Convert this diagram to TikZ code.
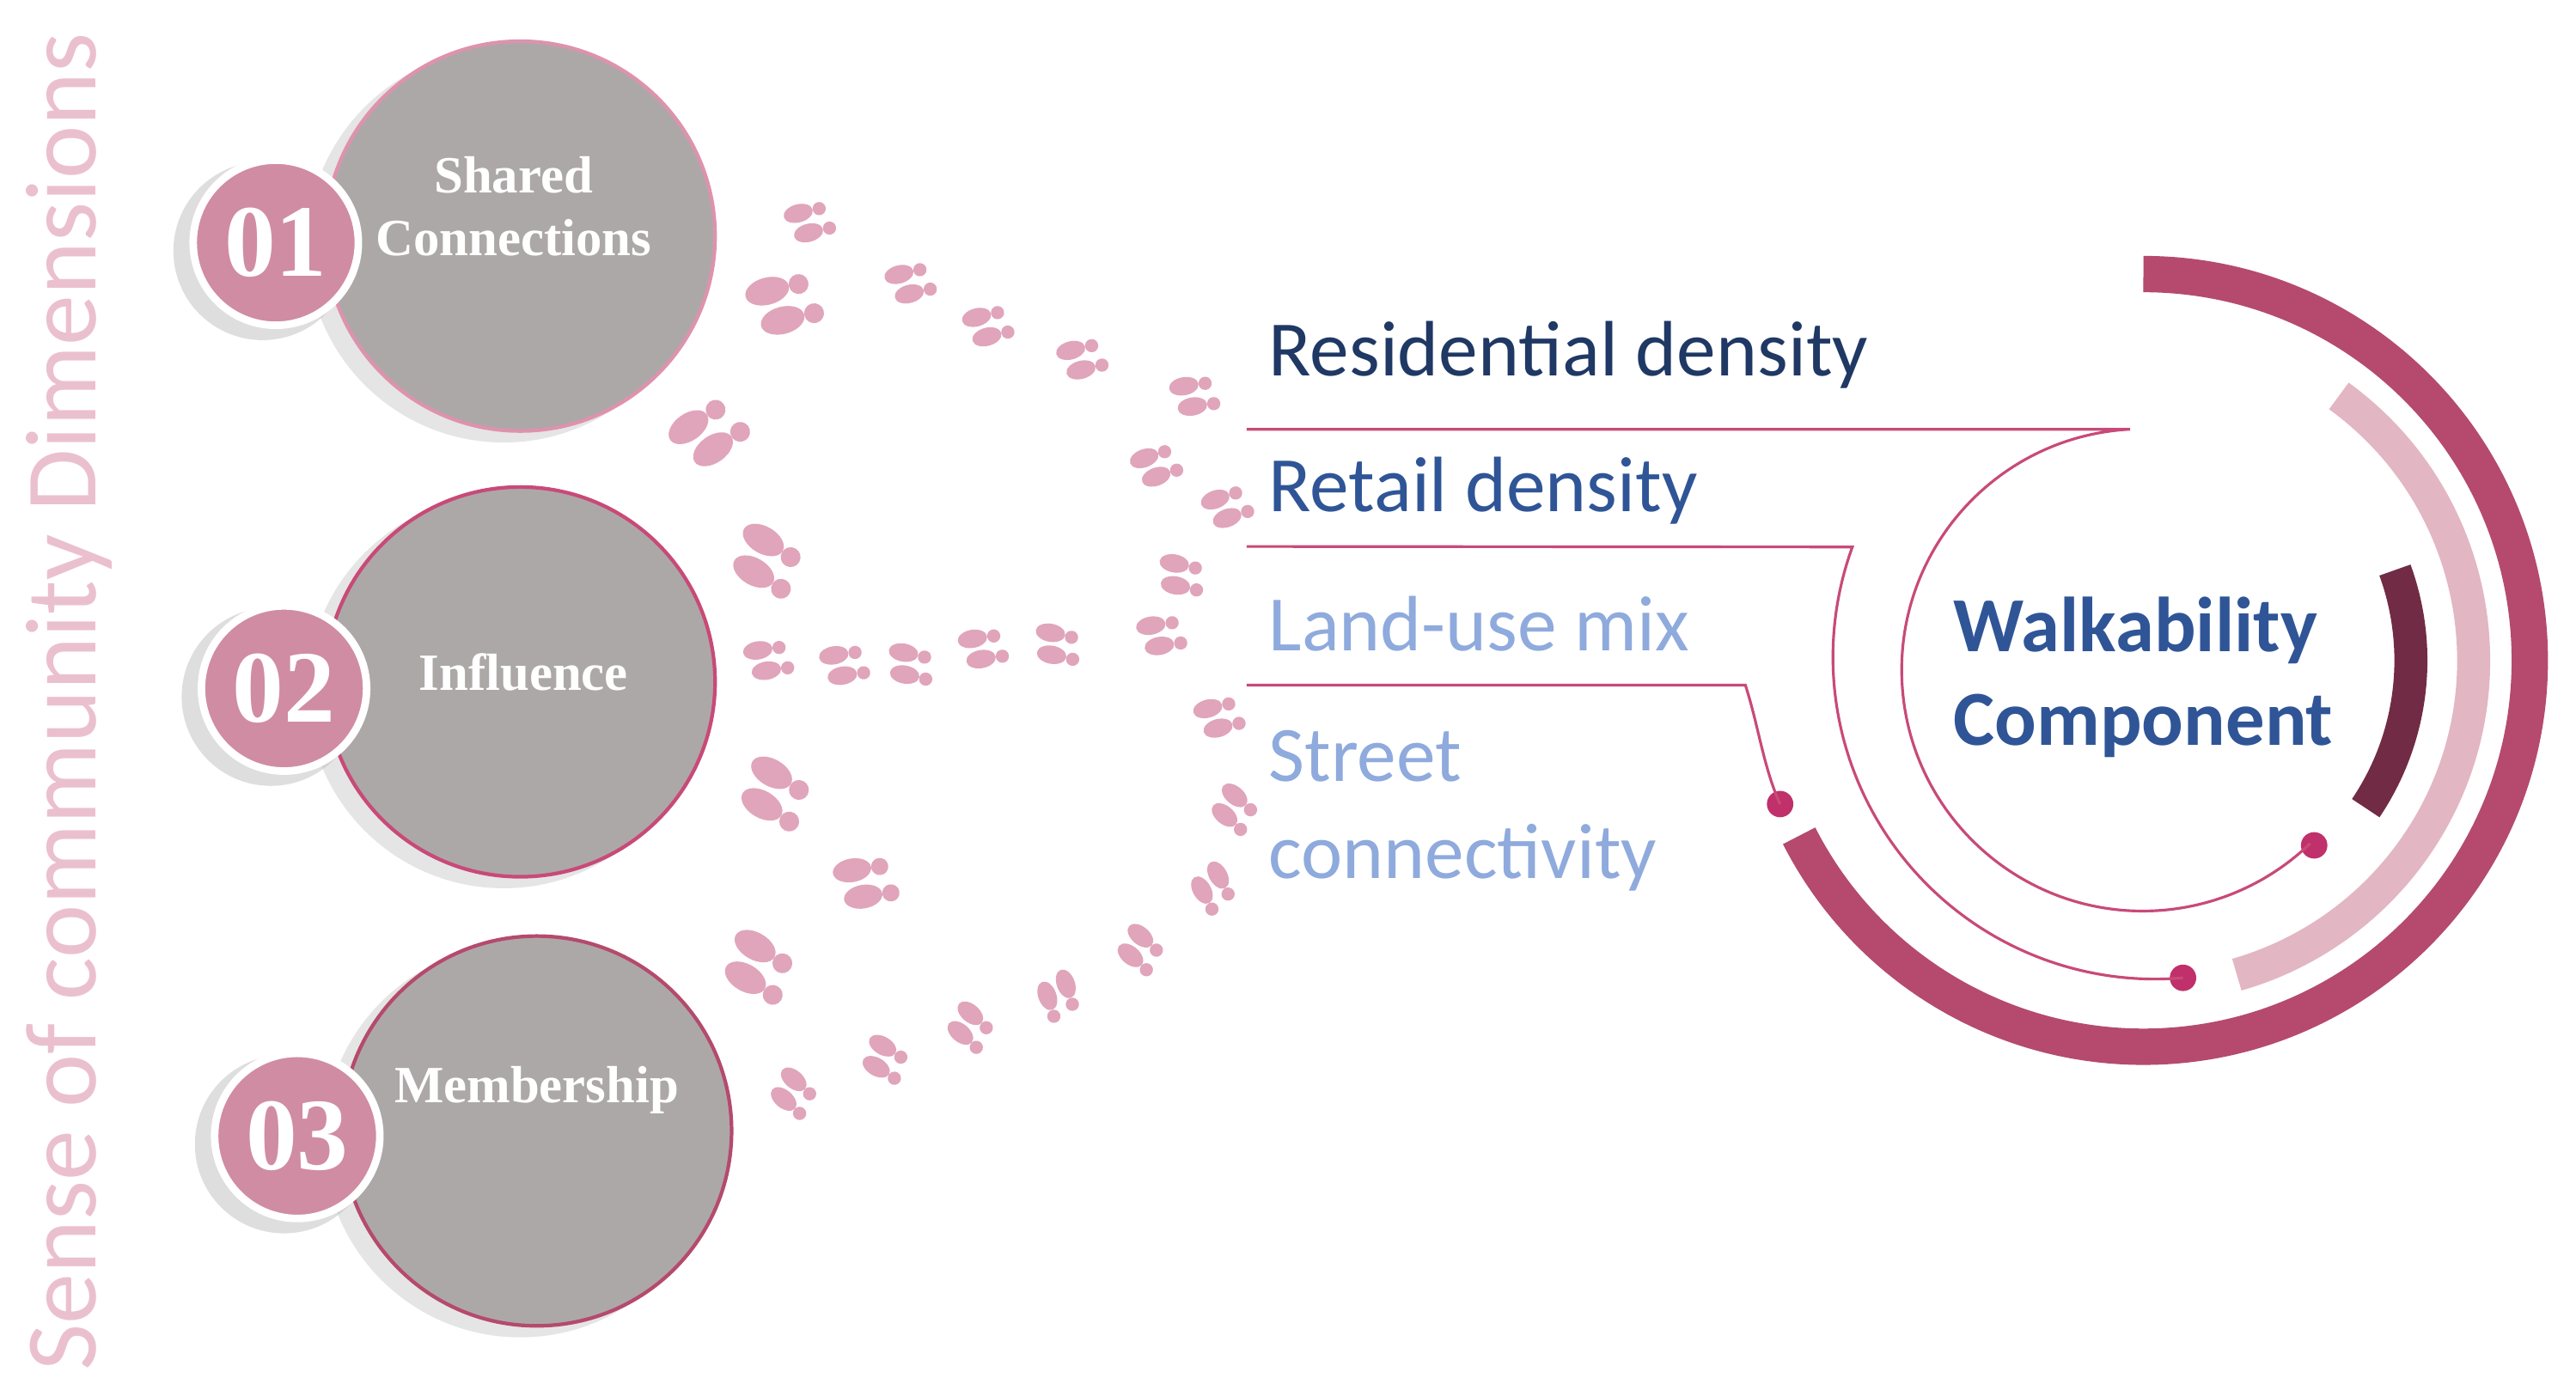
\documentclass[tikz,border=0pt]{standalone}
\usepackage{fontspec}
\setmainfont{Liberation Serif}
\newfontfamily\carl{Carlito}
\usetikzlibrary{calc}
\definecolor{fpc}{HTML}{E0A5BA}
\definecolor{cgray}{HTML}{ADA8A8}
\definecolor{numc}{HTML}{D08CA3}
\definecolor{arcA}{HTML}{B54A6E}
\definecolor{arcB}{HTML}{E3B6C4}
\definecolor{arcC}{HTML}{722B45}
\definecolor{lnc}{HTML}{C84A78}
\definecolor{dotc}{HTML}{C0306A}
\definecolor{navy}{HTML}{1F3864}
\definecolor{mblue}{HTML}{2F5597}
\definecolor{lblue}{HTML}{8FAADC}
\definecolor{vtxt}{HTML}{EBC0CE}
\newcommand\foot[4]{\begin{scope}[shift={(#1,#2)},rotate=#3,scale=#4]
\fill[fpc] (-2,-6.5) ellipse[x radius=9,y radius=5.5]; \fill[fpc] (11,-6) circle[radius=4];
\fill[fpc] (1,6.5) ellipse[x radius=9,y radius=5.5]; \fill[fpc] (14,7) circle[radius=4];
\end{scope}}
\begin{document}
\begin{tikzpicture}[x=0.019218cm,y=-0.019218cm,
 big/.style={circle,fill=cgray,minimum size=236*0.5468pt,inner sep=0pt},
 num/.style={circle,fill=numc,draw=white,line width=2.5pt,minimum size=100*0.5468pt,inner sep=0pt,text=white,font=\bfseries\fontsize{34}{34}\selectfont},
 lab/.style={text=white,font=\bfseries\fontsize{17.3}{21}\selectfont,align=center},
 rt/.style={anchor=west,inner sep=0pt,font=\carl\fontsize{26}{32}\selectfont},
 ln/.style={draw=lnc,line width=0.9pt},
 dot/.style={circle,fill=dotc,minimum size=16*0.5468pt,inner sep=0pt}]
\fill[white] (0,0) rectangle (1560,838);
\useasboundingbox (0,0) rectangle (1560,838);
\node[rotate=90,text=vtxt,font=\carl\fontsize{33.5}{33.5}\selectfont] (vt) at (42,425) {Sense of community Dimensions};
% shadows
\foreach \x/\y in {315/143,315/413,325/685}{\fill[gray!45,opacity=0.45] (\x-10,\y+6) circle[radius=119];}
\node[big,draw=lnc!60,line width=1.2pt] (c1) at (315,143) {};
\node[big,draw=lnc,line width=1.2pt] (c2) at (315,413) {};
\node[big,draw=arcA,line width=1.2pt] (c3) at (325,685) {};
\foreach \x/\y in {167/147,172/417,180/688}{\fill[gray!50,opacity=0.5] (\x-8,\y+5) circle[radius=54];}
\node[num] (n1) at (167,147) {01};
\node[num] (n2) at (172,417) {02};
\node[num] (n3) at (180,688) {03};
\node[lab] (l1) at (311,125) {Shared\\Connections};
\node[lab] (l2) at (317,407) {Influence};
\node[lab] (l3) at (325,660) {Membership};
% footprints
\foot{487}{135}{15}{1}\foot{470}{185}{15}{1.5}\foot{548}{172}{15}{1}\foot{595}{198}{15}{1}
\foot{652}{218}{15}{1}\foot{720}{240}{10}{1}
\foot{425}{265}{35}{1.5}\foot{460}{337}{-30}{1.5}
\foot{462}{400}{10}{1}\foot{508}{403}{10}{1}\foot{548}{402}{-10}{1}\foot{592}{393}{10}{1}
\foot{637}{390}{-10}{1}\foot{700}{385}{10}{1}
\foot{697}{283}{20}{1}\foot{740}{308}{20}{1}\foot{712}{348}{-10}{1}\foot{735}{435}{15}{1}
\foot{745}{488}{-40}{1}\foot{733}{535}{-60}{1}
\foot{465}{478}{-30}{1.5}\foot{520}{535}{10}{1.3}\foot{455}{583}{-30}{1.5}\foot{478}{660}{-40}{1}
\foot{533}{640}{-30}{1}\foot{585}{620}{-40}{1}\foot{640}{600}{-70}{1}\foot{688}{573}{-40}{1}
% arcs
\draw[arcA,line width=22*0.5468pt] (1298,400) ++(-90:234) arc[start angle=-90,end angle=153,radius=234];
\draw[arcB,line width=20*0.5468pt] (1300,400) ++(-54:198) arc[start angle=-54,end angle=74,radius=198];
\draw[arcC,line width=20*0.5468pt] (1300,400) ++(-20:160) arc[start angle=-20,end angle=34,radius=160];
% lines
\coordinate (a1) at (755,260);
\coordinate (a2) at (755,331);
\coordinate (a3) at (755,415);
\coordinate (b2) at ($(1305,398)+(200:195)$);
\node[dot] (d1) at ($(1300,407)+(46:146)$) {};
\node[dot] (d2) at ($(1305,398)+(85:195)$) {};
\node[dot] (d3) at (1078,487) {};
\draw[ln] (a1) -- (1290,260) arc[start angle=-93,end angle=-314,radius=146];
\draw[ln] (a2) -- (b2) arc[start angle=200,end angle=85,radius=195];
\draw[ln] (a3) -- (1057,415) .. controls (1065,440) and (1068,465) .. (d3.center);
% texts
\node[rt,text=navy] (t1) at (768,215) {Residential density};
\node[rt,text=mblue] (t2) at (768,297) {Retail density};
\node[rt,text=lblue] (t3) at (768,378) {Land-use mix};
\node[rt,text=lblue,align=left] (t4) at (768,491) {Street\\connectivity};
\node[text=mblue,font=\carl\bfseries\fontsize{25.8}{31}\selectfont,align=left] (w) at (1298,410) {Walkability\\Component};
\end{tikzpicture}
\end{document}
